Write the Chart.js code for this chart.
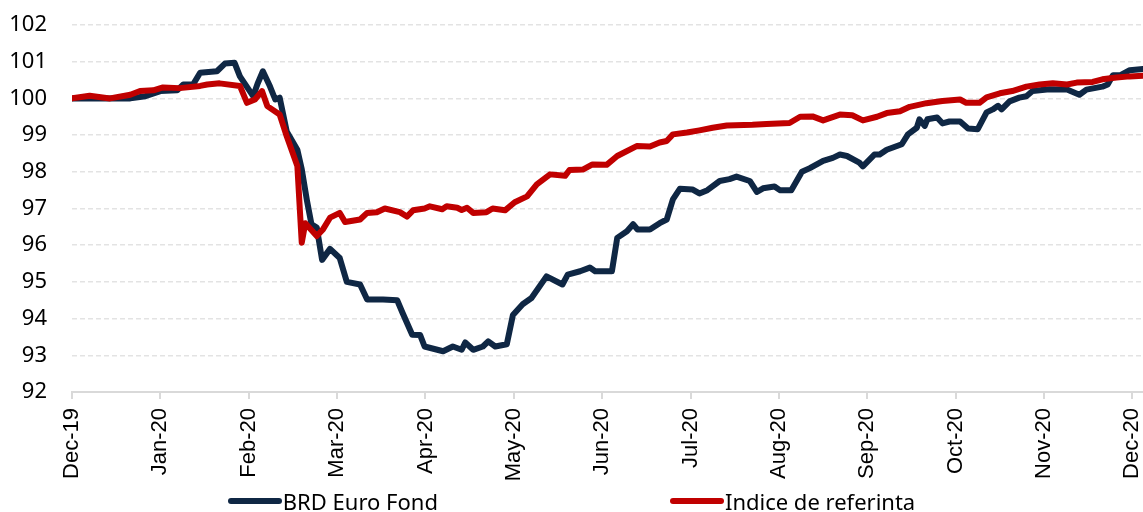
<!DOCTYPE html>
<html>
<head>
<meta charset="utf-8">
<script src="https://cdn.jsdelivr.net/npm/chart.js@4"></script>
<style>
  html, body { margin: 0; padding: 0; background: #fff; }
  #wrap { position: relative; width: 1143px; height: 512px; }
  #legend {
    position: absolute; left: 0; top: 488px; width: 1143px;
    display: flex; justify-content: center; gap: 232px;
    font-family: "Noto Sans", sans-serif; font-size: 22px; color: #000;
  }
  .item { display: flex; align-items: center; line-height: 26px; }
  .swatch { width: 54px; height: 6px; border-radius: 3px; margin-right: 1px; }
</style>
</head>
<body>
<div id="wrap">
  <canvas id="lineChart" width="1143" height="512"></canvas>
  <div id="legend"></div>
</div>
<script>
// Evolutia BRD Euro Fond vs indicele de referinta (baza 100)

// etichetele axei X (cate una pe luna)
const monthLabels = ["Dec-19", "Jan-20", "Feb-20", "Mar-20", "Apr-20", "May-20", "Jun-20",
  "Jul-20", "Aug-20", "Sep-20", "Oct-20", "Nov-20", "Dec-20"];

// pozitia pe axa X in luni de la Dec-19
const fondX = [0, 0.32, 0.66, 0.83, 1.00, 1.19, 1.26, 1.37, 1.45, 1.64, 1.73, 1.84, 1.90, 2.05,
  2.10, 2.16, 2.24, 2.30, 2.35, 2.43, 2.55, 2.60, 2.66, 2.71, 2.77, 2.83, 2.92, 3.03, 3.11,
  3.26, 3.34, 3.52, 3.68, 3.74, 3.85, 3.94, 3.99, 4.20, 4.31, 4.41, 4.45, 4.54, 4.65, 4.71,
  4.79, 4.92, 4.99, 5.10, 5.20, 5.37, 5.55, 5.61, 5.75, 5.86, 5.92, 6.11, 6.17, 6.28, 6.35,
  6.40, 6.54, 6.65, 6.73, 6.80, 6.88, 7.02, 7.10, 7.19, 7.33, 7.44, 7.52, 7.67, 7.75, 7.82,
  7.95, 8.01, 8.14, 8.26, 8.35, 8.50, 8.61, 8.69, 8.77, 8.91, 8.95, 9.08, 9.14, 9.22, 9.39,
  9.46, 9.56, 9.59, 9.65, 9.68, 9.79, 9.85, 9.93, 10.05, 10.14, 10.25, 10.35, 10.42, 10.48,
  10.52, 10.61, 10.72, 10.80, 10.87, 11.06, 11.26, 11.40, 11.48, 11.66, 11.72, 11.78, 11.86,
  11.97, 12.12];
const fondValues = [100.0, 100.0, 100.0, 100.06, 100.2, 100.22, 100.38, 100.38, 100.7, 100.74,
  100.95, 100.97, 100.6, 100.06, 100.4, 100.74, 100.33, 99.97, 100.02, 99.1, 98.6, 98.07, 97.2,
  96.57, 96.48, 95.6, 95.9, 95.65, 95.0, 94.93, 94.52, 94.52, 94.5, 94.16, 93.56, 93.55, 93.24,
  93.11, 93.24, 93.15, 93.35, 93.15, 93.24, 93.38, 93.24, 93.3, 94.1, 94.39, 94.56, 95.15,
  94.93, 95.2, 95.29, 95.39, 95.29, 95.29, 96.2, 96.38, 96.57, 96.43, 96.43, 96.6, 96.7, 97.25,
  97.54, 97.52, 97.41, 97.5, 97.75, 97.8, 97.87, 97.75, 97.45, 97.55, 97.6, 97.5, 97.5, 98.0,
  98.1, 98.3, 98.38, 98.47, 98.43, 98.25, 98.15, 98.47, 98.47, 98.6, 98.75, 99.02, 99.2, 99.43,
  99.25, 99.43, 99.48, 99.32, 99.37, 99.37, 99.18, 99.16, 99.62, 99.7, 99.8, 99.7, 99.92,
  100.02, 100.06, 100.2, 100.25, 100.24, 100.1, 100.24, 100.32, 100.38, 100.63, 100.63,
  100.77, 100.8];

const indiceX = [0, 0.20, 0.43, 0.66, 0.77, 0.92, 1.03, 1.22, 1.45, 1.53, 1.67, 1.90, 1.98,
  2.07, 2.15, 2.21, 2.35, 2.43, 2.55, 2.60, 2.64, 2.77, 2.84, 2.92, 3.03, 3.09, 3.26, 3.34,
  3.45, 3.54, 3.71, 3.79, 3.86, 3.99, 4.05, 4.19, 4.24, 4.36, 4.41, 4.47, 4.54, 4.69, 4.76,
  4.90, 5.01, 5.15, 5.26, 5.41, 5.58, 5.63, 5.78, 5.89, 6.05, 6.17, 6.39, 6.54, 6.65, 6.73,
  6.80, 6.96, 7.10, 7.25, 7.41, 7.70, 7.86, 8.12, 8.24, 8.38, 8.50, 8.69, 8.83, 8.95, 9.11,
  9.22, 9.37, 9.48, 9.67, 9.85, 10.05, 10.12, 10.27, 10.35, 10.50, 10.64, 10.80, 10.95,
  11.10, 11.26, 11.37, 11.55, 11.66, 11.82, 11.97, 12.12];
const indiceValues = [100.0, 100.07, 100.0, 100.1, 100.2, 100.22, 100.3, 100.28, 100.34,
  100.38, 100.41, 100.34, 99.88, 99.97, 100.2, 99.79, 99.56, 98.97, 98.16, 96.07, 96.6, 96.25,
  96.43, 96.75, 96.88, 96.63, 96.7, 96.88, 96.9, 97.0, 96.9, 96.78, 96.95, 97.0, 97.06, 96.98,
  97.06, 97.02, 96.96, 97.02, 96.88, 96.9, 97.0, 96.95, 97.17, 97.33, 97.66, 97.93, 97.89,
  98.05, 98.06, 98.2, 98.19, 98.43, 98.7, 98.69, 98.8, 98.84, 99.02, 99.07, 99.13, 99.2, 99.26,
  99.28, 99.3, 99.33, 99.5, 99.51, 99.4, 99.56, 99.54, 99.4, 99.5, 99.6, 99.65, 99.77, 99.87,
  99.93, 99.97, 99.88, 99.88, 100.03, 100.14, 100.2, 100.32, 100.38, 100.41, 100.38, 100.43,
  100.45, 100.52, 100.57, 100.6, 100.62];

// perechi {x, y} pentru Chart.js
function toPoints(xs, ys) {
  return xs.map(function (x, i) { return { x: x, y: ys[i] }; });
}

const datasets = [
  {
    label: "BRD Euro Fond",
    data: toPoints(fondX, fondValues),
    borderColor: "#0f2744",
    backgroundColor: "#0f2744",
    order: 1
  },
  {
    label: "Indice de referinta",
    data: toPoints(indiceX, indiceValues),
    borderColor: "#c00000",
    backgroundColor: "#c00000",
    order: 0 // desenat deasupra
  }
];

const ctx = document.getElementById("lineChart");
const chart = new Chart(ctx, {
  type: "line",
  data: { datasets: datasets },
  options: {
    responsive: false,
    animation: false,
    layout: { padding: { top: 25, right: 0, left: 0, bottom: 0 } },
    elements: {
      point: { radius: 0 },
      line: { borderWidth: 6, tension: 0, borderJoinStyle: "round", borderCapStyle: "round" }
    },
    plugins: {
      legend: { display: false },
      tooltip: { enabled: false }
    },
    scales: {
      x: {
        type: "linear",
        min: 0,
        max: 12.12,
        afterBuildTicks: function (scale) {
          scale.ticks = monthLabels.map(function (_, i) { return { value: i }; });
        },
        afterFit: function (scale) {
          scale.height = 120;
          scale.paddingLeft = 0;
          scale.paddingRight = 0;
        },
        ticks: {
          callback: function (value) { return monthLabels[value]; },
          minRotation: 90,
          maxRotation: 90,
          autoSkip: false,
          padding: 9,
          color: "#000",
          font: { family: "'Liberation Sans', Arial, sans-serif", size: 22 }
        },
        grid: { drawOnChartArea: false, drawTicks: true, tickLength: 7, color: "#d9d9d9", lineWidth: 2 },
        border: { display: true, color: "#d9d9d9", width: 2 }
      },
      y: {
        min: 92,
        max: 102,
        afterFit: function (scale) {
          scale.width = 72;
          scale.paddingTop = 0;
          scale.paddingBottom = 0;
        },
        ticks: {
          stepSize: 1,
          padding: 25,
          color: "#000",
          font: { family: "'Noto Sans', sans-serif", size: 22 }
        },
        grid: { drawTicks: false, color: "#e3e3e3", lineWidth: 1.5 },
        border: { display: false, dash: [5, 3] }
      }
    }
  }
});

// legenda sub grafic, construita din seturile de date
const legendBox = document.getElementById("legend");
chart.data.datasets.forEach(function (ds) {
  const item = document.createElement("div");
  item.className = "item";
  const sw = document.createElement("span");
  sw.className = "swatch";
  sw.style.background = ds.borderColor;
  const txt = document.createElement("span");
  txt.textContent = ds.label;
  item.appendChild(sw);
  item.appendChild(txt);
  legendBox.appendChild(item);
});
</script>
</body>
</html>
